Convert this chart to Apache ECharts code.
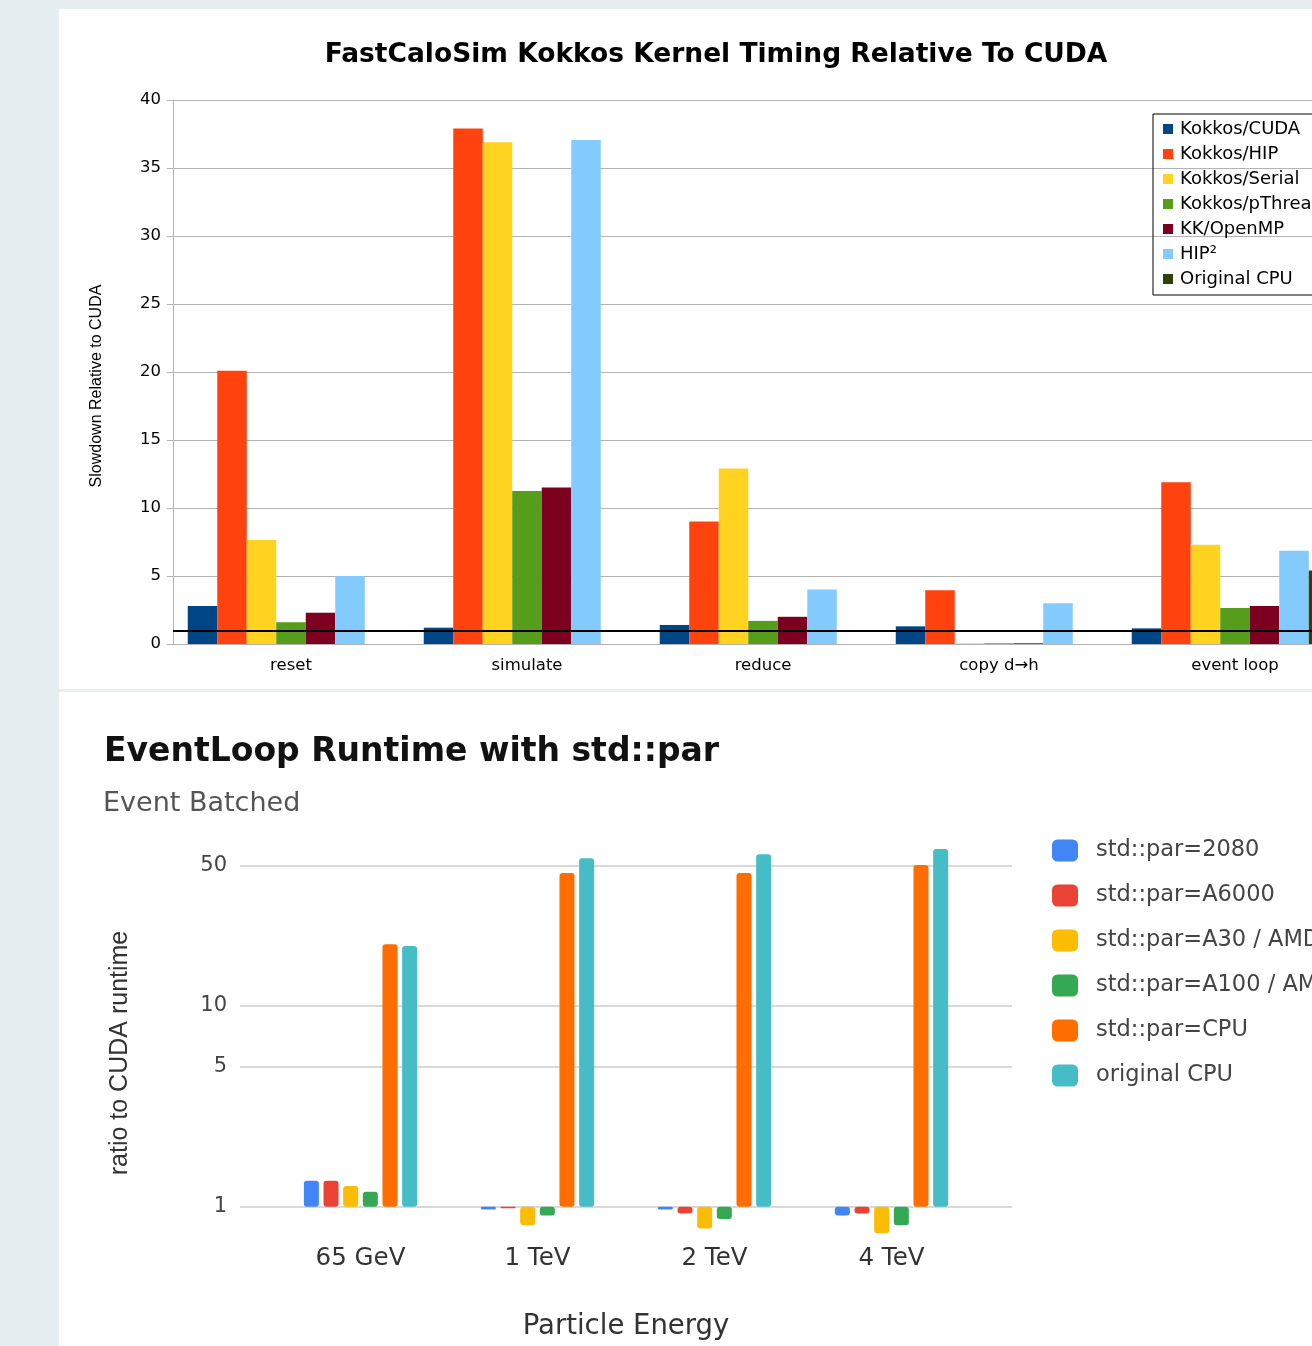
<!DOCTYPE html>
<html>
<head>
<meta charset="utf-8">
<script src="https://cdn.jsdelivr.net/npm/echarts@6.0.0/dist/echarts.min.js"></script>
<style>
html, body { margin: 0; padding: 0; width: 1312px; height: 1346px; overflow: hidden; background: #e6eef1; }
#kernels { position: absolute; left: 59px; top: 9px; width: 1314px; height: 680px; background: #fff; }
#eventloop { position: absolute; left: 59px; top: 692px; width: 1253px; height: 654px; background: #fff; }
</style>
</head>
<body>
<div id="kernels"></div>
<div id="eventloop"></div>
<script>
// top chart: kernel slowdown relative to CUDA
var kernels = ['reset', 'simulate', 'reduce', 'copy d\u2192h', 'event loop'];
var kokkosCuda = [2.8, 1.2, 1.4, 1.3, 1.15];
var kokkosHip = [20.1, 37.9, 9.0, 3.95, 11.9];
var kokkosSerial = [7.65, 36.9, 12.9, 0.05, 7.3];
var kokkosPthreads = [1.6, 11.25, 1.7, 0.05, 2.65];
var kkOpenmp = [2.3, 11.5, 2.0, 0.05, 2.8];
var hip2 = [5.0, 37.05, 4.0, 3.0, 6.85];
var originalCpu = [null, null, null, null, 5.4];

// bottom chart: event loop runtime, log scale
var energies = ['65 GeV', '1 TeV', '2 TeV', '4 TeV'];
var par2080 = [1.35, 0.97, 0.97, 0.906];
var parA6000 = [1.35, 0.985, 0.927, 0.927];
var parA30 = [1.27, 0.81, 0.78, 0.74];
var parA100 = [1.19, 0.906, 0.87, 0.81];
var parCpu = [20.3, 45.9, 45.9, 50.3];
var origCpu = [19.9, 54.3, 56.9, 60.4];
var ratioTicks = [1, 5, 10, 50];

var topFont = 'DejaVu Sans';
var gFont = 'DejaVu Sans';

var kernelChart = echarts.init(document.getElementById('kernels'));

function kernelBar(name, color, values) {
    return {
        name: name,
        type: 'bar',
        data: values,
        barGap: '0%',
        barCategoryGap: '12.5%',
        itemStyle: { color: color },
        emphasis: { disabled: true }
    };
}

var kernelSeries = [
    kernelBar('Kokkos/CUDA', '#004586', kokkosCuda),
    kernelBar('Kokkos/HIP', '#ff420e', kokkosHip),
    kernelBar('Kokkos/Serial', '#ffd320', kokkosSerial),
    kernelBar('Kokkos/pThreads', '#579d1c', kokkosPthreads),
    kernelBar('KK/OpenMP', '#7e0021', kkOpenmp),
    kernelBar('HIP\u00b2', '#83caff', hip2),
    kernelBar('Original CPU', '#314004', originalCpu)
];
// black reference line at 1x
kernelSeries[0].markLine = {
    silent: true,
    symbol: 'none',
    label: { show: false },
    lineStyle: { color: '#000', width: 2, type: 'solid' },
    data: [{ yAxis: 1 }]
};

kernelChart.setOption({
    animation: false,
    title: {
        text: 'FastCaloSim Kokkos Kernel Timing Relative To CUDA',
        left: 'center',
        top: 28,
        textStyle: { fontFamily: topFont, fontSize: 26.5, fontWeight: 'bold', color: '#000' }
    },
    legend: {
        orient: 'vertical',
        left: 1094,
        top: 105,
        padding: [5, 10, 6, 10],
        itemGap: 5,
        itemWidth: 10,
        itemHeight: 10,
        icon: 'rect',
        borderColor: '#000',
        borderWidth: 1,
        textStyle: { fontFamily: topFont, fontSize: 18, lineHeight: 20, color: '#000', padding: [0, 0, 0, 2] }
    },
    grid: { left: 114, right: 20, top: 91, bottom: 45, outerBoundsMode: 'none' },
    xAxis: {
        type: 'category',
        data: kernels,
        axisLine: { lineStyle: { color: '#b3b3b3' } },
        axisTick: { length: 6, lineStyle: { color: '#b3b3b3' } },
        axisLabel: { margin: 13, color: '#000', fontFamily: topFont, fontSize: 16.5 }
    },
    yAxis: {
        type: 'value',
        min: 0,
        max: 40,
        interval: 5,
        name: 'Slowdown Relative to CUDA',
        nameLocation: 'middle',
        nameGap: 68,
        nameTextStyle: { fontFamily: 'Liberation Sans', fontSize: 16, color: '#000', padding: [0, 28, 0, 0] },
        axisLine: { show: true, lineStyle: { color: '#b3b3b3' } },
        axisTick: { show: true, length: 6, lineStyle: { color: '#b3b3b3' } },
        axisLabel: { margin: 12, color: '#000', fontFamily: topFont, fontSize: 16.5 },
        splitLine: { lineStyle: { color: '#b3b3b3' } }
    },
    series: kernelSeries
});

var loopChart = echarts.init(document.getElementById('eventloop'));

function loopBar(name, color, values) {
    return {
        name: name,
        type: 'bar',
        xAxisIndex: 1,
        yAxisIndex: 1,
        data: values,
        barWidth: 15,
        barGap: '31%',
        itemStyle: { color: color, borderRadius: 3 },
        emphasis: { disabled: true }
    };
}

loopChart.setOption({
    animation: false,
    title: [
        {
            text: 'EventLoop Runtime with std::par',
            left: 40,
            top: 39,
            textStyle: { fontFamily: gFont, fontSize: 33, fontWeight: 'bold', color: '#111' }
        },
        {
            text: 'Event Batched',
            left: 39,
            top: 93,
            textStyle: { fontFamily: gFont, fontSize: 27, fontWeight: 'normal', color: '#555' }
        }
    ],
    legend: {
        orient: 'vertical',
        left: 993,
        top: 147,
        padding: 0,
        itemWidth: 26,
        itemHeight: 22,
        itemGap: 22,
        icon: 'roundRect',
        textStyle: { fontFamily: gFont, fontSize: 22.5, lineHeight: 22, color: '#444', padding: [0, 0, 0, 13] }
    },
    grid: [
        { left: 181, right: 300, top: 113, bottom: 108, outerBoundsMode: 'none' },
        { left: 213, right: 332, top: 113, bottom: 108, outerBoundsMode: 'none' }
    ],
    xAxis: [
        { gridIndex: 0, type: 'category', data: energies, show: false },
        {
            gridIndex: 1,
            type: 'category',
            data: energies,
            name: 'Particle Energy',
            nameLocation: 'middle',
            nameGap: 75,
            nameTextStyle: { fontFamily: gFont, fontSize: 27.5, color: '#333' },
            axisLine: { show: false },
            axisTick: { show: false },
            axisLabel: { margin: 8, color: '#333', fontFamily: gFont, fontSize: 24.5 }
        }
    ],
    yAxis: [
        {
            gridIndex: 0,
            type: 'log',
            min: 0.7,
            max: 100,
            name: 'ratio to CUDA runtime',
            nameLocation: 'middle',
            nameGap: 107,
            nameTextStyle: { fontFamily: 'Liberation Sans', fontSize: 25, color: '#333', padding: [0, 63, 0, 0] },
            axisLine: { show: false },
            axisTick: { show: false, customValues: ratioTicks },
            axisLabel: { customValues: ratioTicks, margin: 13, color: '#444', fontFamily: gFont, fontSize: 21 },
            splitLine: { show: true, lineStyle: { color: '#cccccc', width: 1.5 } }
        },
        { gridIndex: 1, type: 'log', min: 0.7, max: 100, show: false }
    ],
    series: [
        loopBar('std::par=2080', '#4285f4', par2080),
        loopBar('std::par=A6000', '#ea4335', parA6000),
        loopBar('std::par=A30 / AMD', '#fbbc04', parA30),
        loopBar('std::par=A100 / AMD', '#34a853', parA100),
        loopBar('std::par=CPU', '#ff6d01', parCpu),
        loopBar('original CPU', '#46bdc6', origCpu)
    ]
});
</script>
</body>
</html>
